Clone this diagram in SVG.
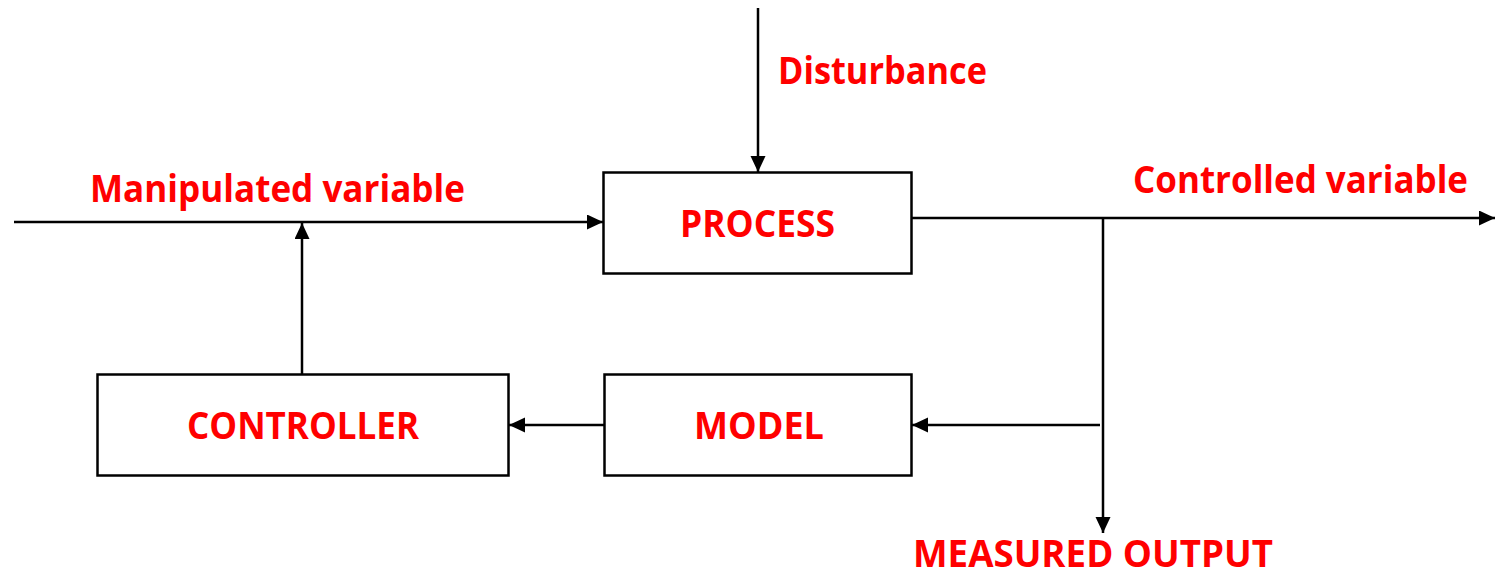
<svg xmlns="http://www.w3.org/2000/svg" width="1495" height="579" viewBox="0 0 1495 579">
<defs>
<style>
.box{fill:#fff;stroke:#000;stroke-width:2.5}
.ln{fill:none;stroke:#000;stroke-width:2.5}
.lbl{font-family:"Open Sans","Liberation Sans",sans-serif;font-weight:bold;font-size:37px;fill:#ff0000}
</style>
<marker id="ah" markerUnits="userSpaceOnUse" markerWidth="17" markerHeight="16" refX="16" refY="7.500" orient="auto">
<path d="M0,0 L16,7.500 L0,15 z" fill="#000"/>
</marker>
</defs>
<rect width="1495" height="579" fill="#fff"/>
<g id="connectors">
<line class="ln" x1="758" y1="8" x2="758" y2="172" marker-end="url(#ah)"/>
<line class="ln" x1="14" y1="222" x2="603" y2="222" marker-end="url(#ah)"/>
<line class="ln" x1="302" y1="374" x2="302" y2="223" marker-end="url(#ah)"/>
<line class="ln" x1="909" y1="218" x2="1495" y2="218" marker-end="url(#ah)"/>
<line class="ln" x1="1103" y1="218" x2="1103" y2="533" marker-end="url(#ah)"/>
<line class="ln" x1="1100" y1="425" x2="912" y2="425" marker-end="url(#ah)"/>
<line class="ln" x1="604" y1="425" x2="509" y2="425" marker-end="url(#ah)"/>
</g>
<g id="process">
<rect class="box" x="603.500" y="172.500" width="308" height="101"/>
<text class="lbl" x="680" y="237" textLength="155" lengthAdjust="spacingAndGlyphs">PROCESS</text>
</g>
<g id="model">
<rect class="box" x="604.500" y="374.500" width="307" height="101"/>
<text class="lbl" x="694" y="439" textLength="130" lengthAdjust="spacingAndGlyphs">MODEL</text>
</g>
<g id="controller">
<rect class="box" x="97.500" y="374.500" width="411" height="101"/>
<text class="lbl" x="187" y="439" textLength="232" lengthAdjust="spacingAndGlyphs">CONTROLLER</text>
</g>
<g id="labels">
<text class="lbl" x="778" y="84" textLength="209" lengthAdjust="spacingAndGlyphs">Disturbance</text>
<text class="lbl" x="90" y="202" textLength="375" lengthAdjust="spacingAndGlyphs">Manipulated variable</text>
<text class="lbl" x="1133" y="193" textLength="335" lengthAdjust="spacingAndGlyphs">Controlled variable</text>
<text class="lbl" x="913" y="567" textLength="360" lengthAdjust="spacingAndGlyphs">MEASURED OUTPUT</text>
</g>
</svg>
